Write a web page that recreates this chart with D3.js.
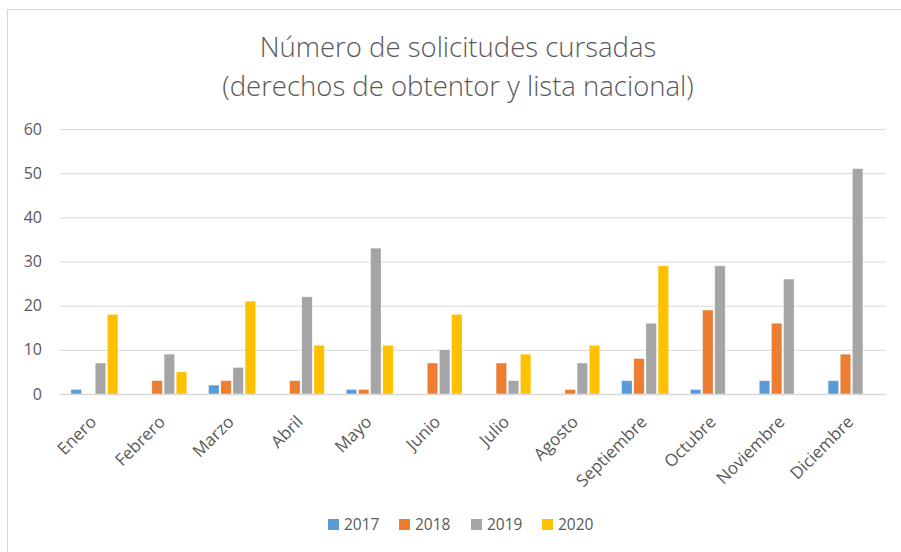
<!DOCTYPE html>
<html>
<head>
<meta charset="utf-8">
<script src="https://cdn.jsdelivr.net/npm/d3@7"></script>
<style>
  html, body { margin: 0; padding: 0; background: #fff; }
  svg { display: block; }
  text { font-family: "Open Sans", sans-serif; fill: #595959; }
</style>
</head>
<body>
<svg id="chart" width="901" height="552"></svg>
<script>
const titleLines = ["Número de solicitudes cursadas", "(derechos de obtentor y lista nacional)"];
const months = ["Enero","Febrero","Marzo","Abril","Mayo","Junio","Julio","Agosto","Septiembre","Octubre","Noviembre","Diciembre"];
const years = ["2017","2018","2019","2020"];
const v2017 = [1,0,2,0,1,0,0,0,3,1,3,3];
const v2018 = [0,3,3,3,1,7,7,1,8,19,16,9];
const v2019 = [7,9,6,22,33,10,3,7,16,29,26,51];
const v2020 = [18,5,21,11,11,18,9,11,29,0,0,0];
const yTicks = [0,10,20,30,40,50,60];
const colors = ["#5B9BD5","#ED7D31","#A5A5A5","#FFC000"];

const seriesValues = [v2017, v2018, v2019, v2020];
const svg = d3.select("#chart");

// chart border (cropped on right/bottom like the reference)
svg.append("rect").attr("x", 7.5).attr("y", 9.5).attr("width", 900).attr("height", 560)
  .attr("fill", "none").attr("stroke", "#d9d9d9").attr("stroke-width", 1);

const plot = {left: 60, right: 886, top: 129, bottom: 394};

const x0 = d3.scaleBand().domain(months).range([plot.left, plot.right]).paddingInner(0.32).paddingOuter(0.16);
const x1 = d3.scaleBand().domain(years).range([0, x0.bandwidth()]).paddingInner(0.15);
const y = d3.scaleLinear().domain([0, 60]).range([plot.bottom, plot.top]);

// gridlines
svg.append("g").selectAll("line").data(yTicks.filter(d => d > 0)).join("line")
  .attr("x1", plot.left).attr("x2", plot.right)
  .attr("y1", d => y(d) + 0.5).attr("y2", d => y(d) + 0.5)
  .attr("stroke", "#d9d9d9").attr("stroke-width", 1);

// y labels
svg.append("g").selectAll("text").data(yTicks).join("text")
  .attr("x", 42).attr("y", d => y(d)).attr("dy", "0.35em")
  .attr("text-anchor", "end").attr("font-size", 16).text(d => d);

// bars
const groups = svg.append("g").selectAll("g").data(months).join("g")
  .attr("transform", d => `translate(${x0(d)},0)`);
groups.selectAll("rect").data((m, i) => years.map((yr, s) => ({yr, s, v: seriesValues[s][i]})))
  .join("rect")
  .filter(d => d.v > 0)
  .attr("x", d => x1(d.yr)).attr("width", x1.bandwidth())
  .attr("y", d => y(d.v)).attr("height", d => y(0) - y(d.v))
  .attr("fill", d => colors[d.s])
  .attr("stroke", "#ffffff").attr("stroke-opacity", 0.35).attr("stroke-width", 0.6);

// x axis line
svg.append("line").attr("x1", plot.left).attr("x2", plot.right)
  .attr("y1", plot.bottom + 0.5).attr("y2", plot.bottom + 0.5)
  .attr("stroke", "#d9d9d9").attr("stroke-width", 1.5);

// x labels
svg.append("g").selectAll("text").data(months).join("text")
  .attr("text-anchor", "end").attr("font-size", 17)
  .attr("transform", d => `translate(${x0(d) + x0.bandwidth() / 2 + 3},${423}) rotate(-45)`)
  .text(d => d);

// title
const tY = [57, 96];
titleLines.forEach((t, i) => {
  svg.append("text").attr("x", 458).attr("y", tY[i]).attr("text-anchor", "middle")
    .attr("font-size", 27.5).attr("font-weight", 300).text(t);
});

// legend
const legendX = [328, 399, 471, 542];
const lg = svg.append("g").selectAll("g").data(years).join("g")
  .attr("transform", (d, i) => `translate(${legendX[i]},519)`);
lg.append("rect").attr("width", 11).attr("height", 11).attr("fill", (d, i) => colors[i]);
lg.append("text").attr("x", 16).attr("y", 5.5).attr("dy", "0.36em").attr("font-size", 15.5).text(d => d);
</script>
</body>
</html>
